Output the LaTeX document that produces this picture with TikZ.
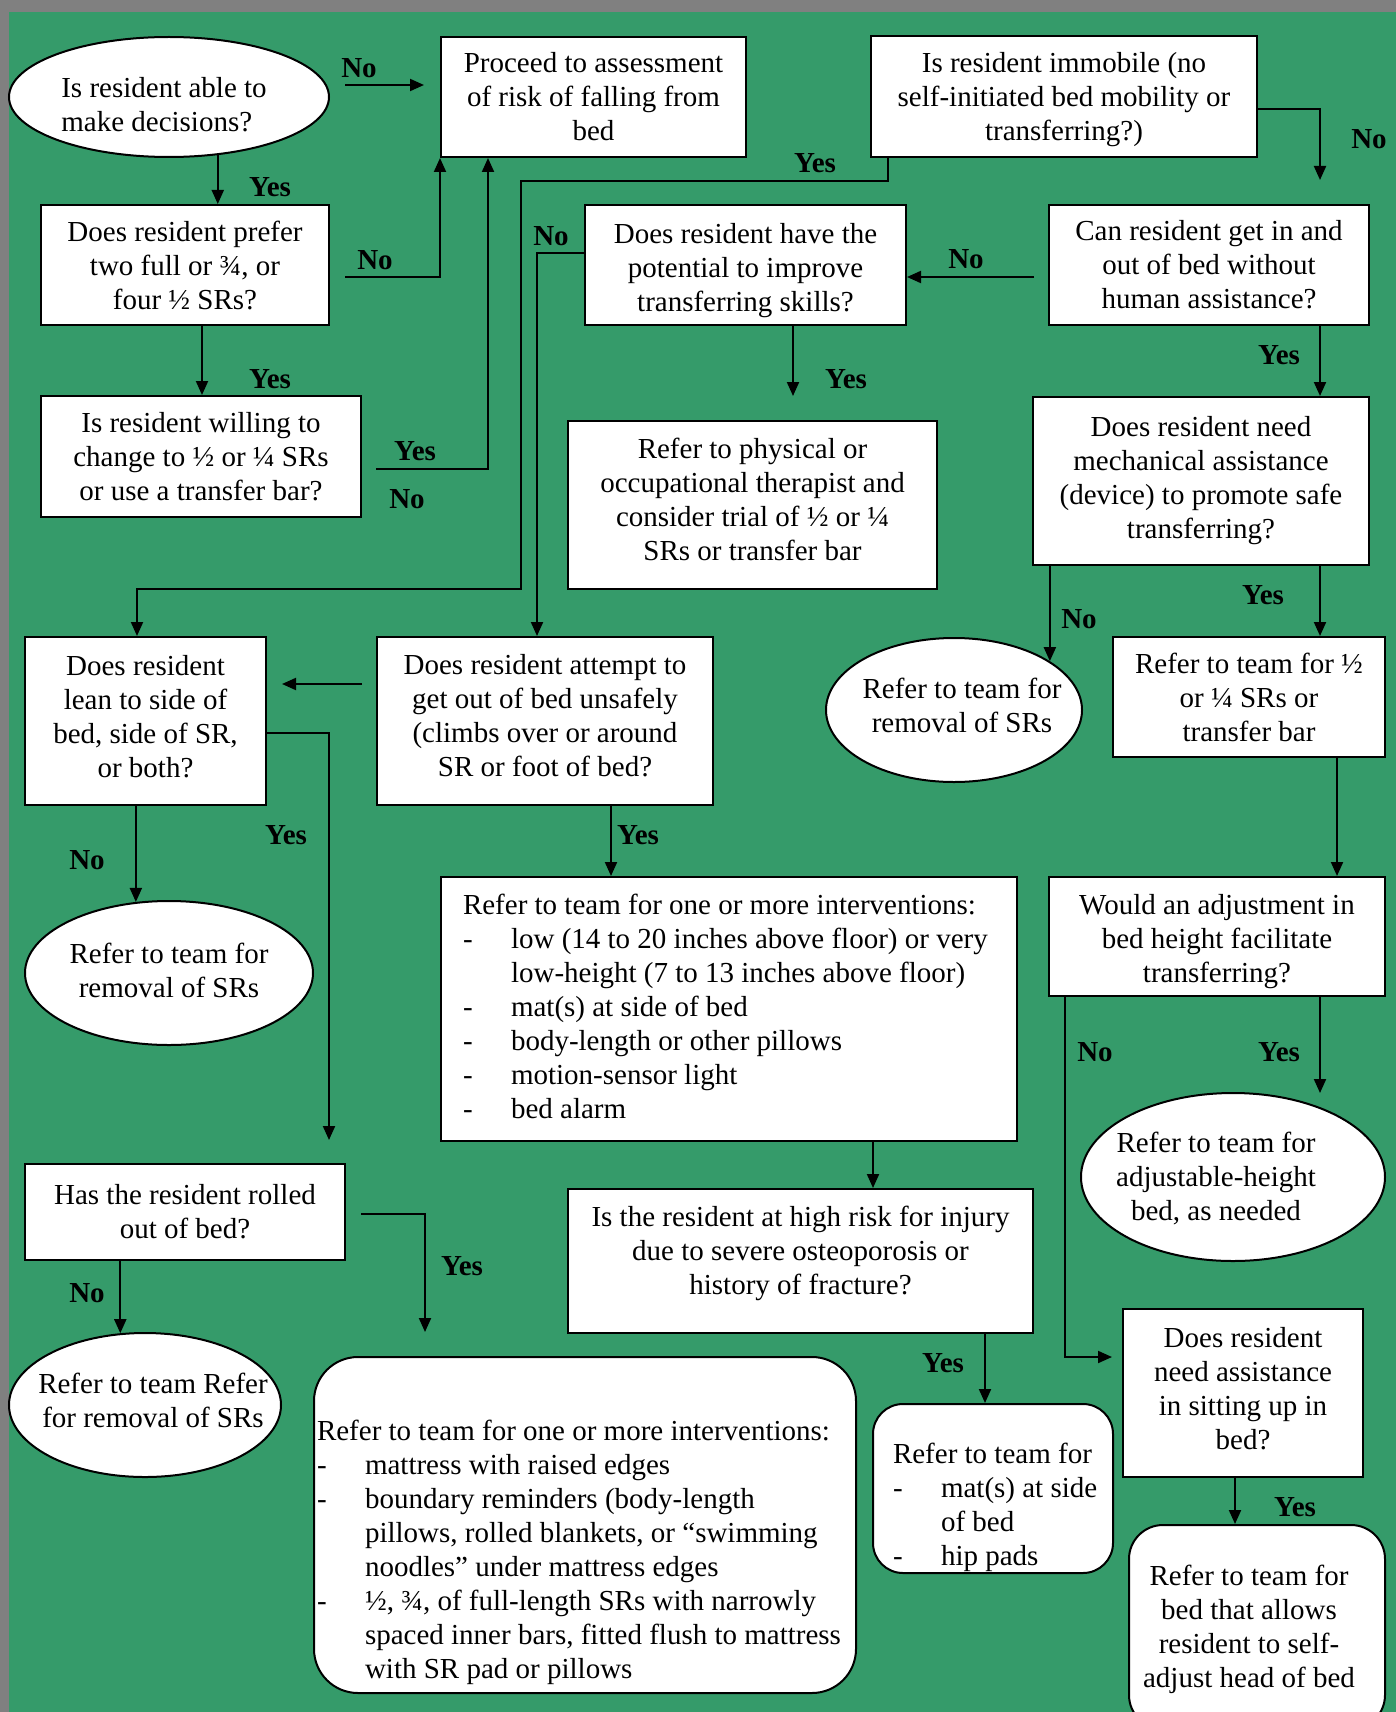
\documentclass[tikz,border=0pt]{standalone}
\usepackage{fontspec}
\setmainfont{Liberation Serif}
\usetikzlibrary{arrows.meta,shapes.geometric}

\definecolor{bggreen}{RGB}{53,155,106}
\definecolor{framegray}{RGB}{128,128,128}
\newcommand\boxfont{\fontsize{14.5pt}{17pt}\selectfont}
\newcommand\dsh{\makebox[24pt][l]{-}}
\newcommand\ind{\hspace*{24pt}}

\tikzset{every picture/.style={line width=1pt}}
\tikzset{
  box/.style={draw, fill=white, align=center, inner sep=1pt, font=\boxfont},
  rbox/.style={box, rounded corners=15pt},
  oval/.style={draw, fill=white, ellipse, inner sep=0pt},
  txt/.style={align=center, inner sep=0pt, font=\boxfont},
  lab/.style={inner sep=0pt, font=\boxfont\bfseries},
  arr/.style={-{Triangle[length=7pt,width=6pt]}}
}

\begin{document}
\begin{tikzpicture}[x=0.5pt,y=0.5pt,yscale=-1,xscale=1]
\useasboundingbox (0,0) rectangle (1396,1712);
%background
\fill[framegray] (0,0) rectangle (1396,1712);
\fill[bggreen] (9,12) rectangle (1396,1712);

%Shapes: top row
\node[oval, minimum width=160pt, minimum height=60pt] (able) at (169,97) {};
\node[txt, align=left] (able-t) at (164,105) {Is resident able to\\make decisions?};
\node[box, minimum width=152.5pt, minimum height=60pt] (proceed) at (593.5,97) {Proceed to assessment\\of risk of falling from\\bed};
\node[box, minimum width=193pt, minimum height=60.5pt] (immobile) at (1064,96.5) {};
\node[txt] (immobile-t) at (1064,99.5) {Is resident immobile (no\\self-initiated bed mobility or\\transferring?)};

%Shapes: second row
\node[box, minimum width=144pt, minimum height=60pt] (prefer) at (185,265) {Does resident prefer\\two full or ¾, or\\four ½ SRs?};
\node[box, minimum width=160.5pt, minimum height=60pt] (potential) at (745.5,265) {};
\node[txt] (potential-t) at (745.5,270.5) {Does resident have the\\potential to improve\\transferring skills?};
\node[box, minimum width=160pt, minimum height=60pt] (canget) at (1209,265) {Can resident get in and\\out of bed without\\human assistance?};

%Shapes: third row
\node[box, minimum width=160pt, minimum height=60.5pt] (willing) at (201,456.5) {Is resident willing to\\change to ½ or ¼ SRs\\or use a transfer bar?};
\node[box, minimum width=184.5pt, minimum height=84pt] (physical) at (752.5,505) {};
\node[txt] (physical-t) at (752.5,499.5) {Refer to physical or\\occupational therapist and\\consider trial of ½ or ¼\\SRs or transfer bar};
\node[box, minimum width=168pt, minimum height=84pt] (mech) at (1201,481) {Does resident need\\mechanical assistance\\(device) to promote safe\\transferring?};

%Shapes: fourth row
\node[box, minimum width=120.5pt, minimum height=84pt] (lean) at (145.5,721) {};
\node[txt] (lean-t) at (145.5,716.5) {Does resident\\lean to side of\\bed, side of SR,\\or both?};
\node[box, minimum width=168pt, minimum height=84pt] (attempt) at (545,721) {};
\node[txt] (attempt-t) at (545,715.5) {Does resident attempt to\\get out of bed unsafely\\(climbs over or around\\SR or foot of bed?};
\node[oval, minimum width=128pt, minimum height=72pt] (rem2) at (954,710) {};
\node[txt] (rem2-t) at (962,705) {Refer to team for\\removal of SRs};
\node[box, minimum width=136pt, minimum height=60pt] (half) at (1249,697) {Refer to team for ½\\or ¼ SRs or\\transfer bar};

%Shapes: fifth row
\node[oval, minimum width=144pt, minimum height=72pt] (rem1) at (169,973) {};
\node[txt] (rem1-t) at (169,970) {Refer to team for\\removal of SRs};
\node[box, minimum width=288pt, minimum height=132pt] (interv) at (729,1009) {};
\node[txt, align=left, anchor=north west] (interv-t) at (462,893) {Refer to team for one or more interventions:\\
  \dsh low (14 to 20 inches above floor) or very\\
  \ind low-height (7 to 13 inches above floor)\\
  \dsh mat(s) at side of bed\\
  \dsh body-length or other pillows\\
  \dsh motion-sensor light\\
  \dsh bed alarm};
\node[box, minimum width=168pt, minimum height=59.5pt] (adjust) at (1217,936.5) {};
\node[txt] (adjust-t) at (1217,942) {Would an adjustment in\\bed height facilitate\\transferring?};
\node[oval, minimum width=152pt, minimum height=84pt] (adjh) at (1233,1177) {};
\node[txt] (adjh-t) at (1216,1179) {Refer to team for\\adjustable-height\\bed, as needed};

%Shapes: bottom part
\node[box, minimum width=160pt, minimum height=48pt] (rolled) at (185,1212) {Has the resident rolled\\out of bed?};
\node[box, minimum width=232.5pt, minimum height=72pt] (highrisk) at (800.5,1261) {};
\node[txt] (highrisk-t) at (800.5,1253.5) {Is the resident at high risk for injury\\due to severe osteoporosis or\\history of fracture?};
\node[box, minimum width=120pt, minimum height=84pt] (sitting) at (1243,1393) {};
\node[txt] (sitting-t) at (1243,1388.5) {Does resident\\need assistance\\in sitting up in\\bed?};
\node[oval, minimum width=136pt, minimum height=72pt] (rem3) at (145,1405) {};
\node[txt] (rem3-t) at (153,1400) {Refer to team Refer\\for removal of SRs};
\node[rbox, rounded corners=22pt, minimum width=271pt, minimum height=168pt] (bigbox) at (585,1525) {};
\node[txt, align=left, anchor=north west] (bigbox-t) at (316,1419) {Refer to team for one or more interventions:\\
  \dsh mattress with raised edges\\
  \dsh boundary reminders (body-length\\
  \ind pillows, rolled blankets, or “swimming\\
  \ind noodles” under mattress edges\\
  \dsh ½, ¾, of full-length SRs with narrowly\\
  \ind spaced inner bars, fitted flush to mattress\\
  \ind with SR pad or pillows};
\node[rbox, minimum width=120pt, minimum height=84.5pt] (mats) at (993,1488.5) {};
\node[txt, align=left, anchor=north west] (mats-t) at (892,1442) {Refer to team for\\
  \dsh mat(s) at side\\
  \ind of bed\\
  \dsh hip pads};
\node[rbox, rounded corners=17pt, minimum width=128pt, minimum height=102pt] (selfadj) at (1257,1627) {};
\node[txt] (selfadj-t) at (1249,1629) {Refer to team for\\bed that allows\\resident to self-\\adjust head of bed};

%Free ends
\coordinate (a1) at (345,85);
\coordinate (a2) at (424,85);
\coordinate (b1) at (345,277);
\coordinate (b2) at (376,469);
\coordinate (r1) at (521,181);
\coordinate (r2) at (521,589);
\coordinate (k1) at (537,253);
\coordinate (k2) at (1034,277);
\coordinate (k3) at (1320,109);
\coordinate (k3e) at (1320,180);
\coordinate (k4) at (793,396);
\coordinate (k5) at (1320,1093);
\coordinate (k6) at (1065,1357);
\coordinate (k7) at (1112,1357);
\coordinate (k8) at (362,684);
\coordinate (k9) at (282,684);
\coordinate (k10) at (329,733);
\coordinate (k11) at (329,1140);
\coordinate (k12) at (361,1214);
\coordinate (k13) at (425,1332);

%Connectors
\draw[arr] (a1) -- (a2);
\draw[arr] (able.-50) -- (able.-50 |- prefer.north);
\draw[arr] (b1) -| (proceed.south west);
\draw[arr] ([xshift=8.5pt]prefer.south) -- ([xshift=8.5pt]prefer.south |- willing.north);
\draw[arr] (b2) -| ([xshift=24pt]proceed.south west);
\draw[arr] ([xshift=9pt]immobile.south west) |- (r1) -- (r2) -| ([xshift=-4.25pt]lean.north);
\draw[arr] (potential.west |- k1) -- (k1) -- ([xshift=-4pt]attempt.north);
\draw[arr] (k2) -- (k2 -| potential.east);
\draw[arr] (immobile.east |- k3) -- (k3) -- (k3e);
\draw[arr] (potential.south -| k4) -- (k4);
\draw[arr] (canget.south -| k3) -- (mech.north -| k3);
\draw[arr] (mech.south -| rem2.27) -- (rem2.27);
\draw[arr] (mech.south -| k3) -- (half.north -| k3);
\draw[arr] ([xshift=44pt]half.south) -- ([xshift=44pt]half.south |- adjust.north);
\draw[arr] (adjust.south -| k5) -- (k5);
\draw[arr] (adjust.south -| k6) -- (k6) -- (k7);
\draw[arr] (k8) -- (k9);
\draw[arr] (lean.east |- k10) -- (k10) -- (k11);
\draw[arr] (lean.south -| rem1.115) -- (rem1.115);
\draw[arr] ([xshift=33pt]attempt.south) -- ([xshift=33pt]attempt.south |- interv.north);
\draw[arr] ([xshift=72pt]interv.south) -- ([xshift=72pt]interv.south |- highrisk.north);
\draw[arr] ([xshift=-4pt]mats.north |- highrisk.south) -- ([xshift=-4pt]mats.north);
\draw[arr] ([xshift=-4pt]sitting.south) -- ([xshift=-4pt]sitting.south |- selfadj.north);
\draw[arr] (rolled.south -| rem3.109) -- (rem3.109);
\draw[arr] (k12) -| (k13);

% Text Node
\node[lab] (l1) at (359,68) {No};
\node[lab] (l2) at (270,187) {Yes};
\node[lab] (l3) at (375,260) {No};
\node[lab] (l4) at (270,379) {Yes};
\node[lab] (l5) at (415,451) {Yes};
\node[lab] (l6) at (407,499) {No};
\node[lab] (l7) at (815,163) {Yes};
\node[lab] (l8) at (551,236) {No};
\node[lab] (l9) at (1369,139) {No};
\node[lab] (l10) at (966,259) {No};
\node[lab] (l11) at (846,379) {Yes};
\node[lab] (l12) at (1279,355) {Yes};
\node[lab] (l13) at (1079,619) {No};
\node[lab] (l14) at (1263,595) {Yes};
\node[lab] (l15) at (286,835) {Yes};
\node[lab] (l16) at (87,860) {No};
\node[lab] (l17) at (638,835) {Yes};
\node[lab] (l18) at (1279,1052) {Yes};
\node[lab] (l19) at (1095,1052) {No};
\node[lab] (l20) at (87,1293) {No};
\node[lab] (l21) at (462,1266) {Yes};
\node[lab] (l22) at (943,1363) {Yes};
\node[lab] (l23) at (1295,1507) {Yes};
\end{tikzpicture}
\end{document}
